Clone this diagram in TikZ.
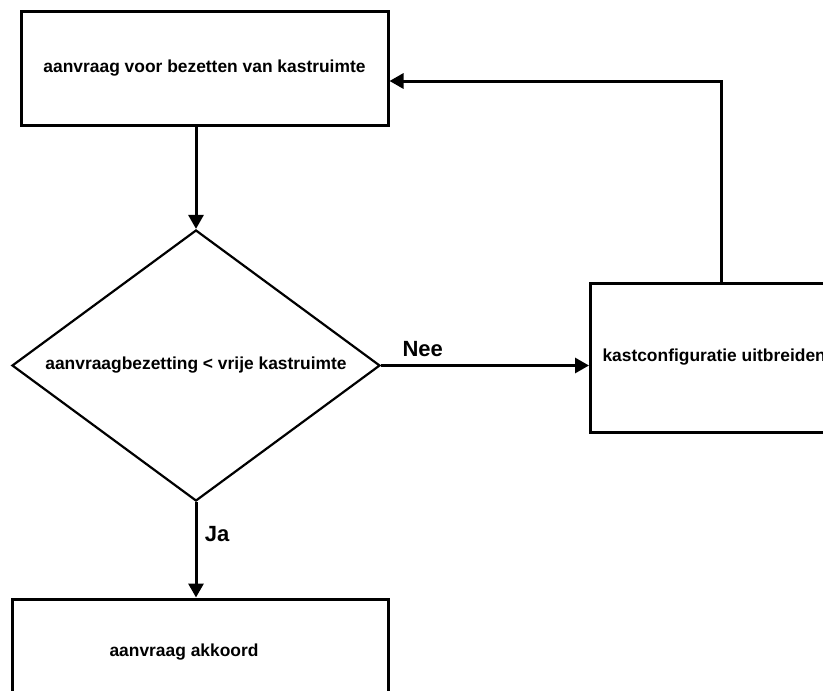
\documentclass[tikz,border=0pt]{standalone}
\usepackage{fontspec}
\setmainfont{Liberation Sans}
\usepackage{tikz}
\usetikzlibrary{shapes.geometric}
\usetikzlibrary{arrows.meta}

\begin{document}
\begin{tikzpicture}[x=1pt,y=-1pt]
    \tikzstyle{box}=[rectangle,draw=black,line width=3pt,inner sep=0pt,font=\bfseries\fontsize{17.4}{20}\selectfont]
    \tikzstyle{decision}=[diamond,draw=black,line width=2.2pt,aspect=1.36,minimum width=368pt,minimum height=271pt,inner sep=0pt,font=\bfseries\fontsize{17.4}{20}\selectfont]
    \tikzstyle{flow}=[-{Triangle[length=14pt,width=15pt]},line width=3pt,color=black]
    \tikzstyle{flow text}=[black,font=\bfseries\fontsize{22}{26}\selectfont]

    \useasboundingbox (0,0) rectangle (823,691);
    \clip (0,0) rectangle (823,691);

    % Boxes
    \node[style=box,minimum width=367pt,minimum height=114pt] (request) at (204.5,68) {aanvraag voor bezetten van kastruimte};
    \node[style=decision] (check) at (196,365.5) {aanvraagbezetting < vrije kastruimte};
    \node[style=box,anchor=west,minimum height=149pt,inner xsep=12pt] (extend) at (589,357.5) {kastconfiguratie uitbreiden};
    \node[style=box,minimum width=376pt,minimum height=114pt] (approved) at (200,656) {};
    \node[font=\bfseries\fontsize{17.4}{20}\selectfont] (approvedtext) at (184,652) {aanvraag akkoord};

    \coordinate (corner) at (721,81);

    % Arrows
    \draw[style=flow] (check.north |- request.south) -- (check.north);
    \draw[style=flow] (check.east) -- node[pos=0.2,style=flow text,above=4pt] (nee) {Nee} (check.east -| extend.west);
    \draw[style=flow] (check.south) -- node[pos=0.33,style=flow text,right=4pt] (ja) {Ja} (check.south |- approved.north);
    \draw[style=flow] (extend.north -| corner) -- (corner) -- (request.east |- corner);

\end{tikzpicture}
\end{document}
